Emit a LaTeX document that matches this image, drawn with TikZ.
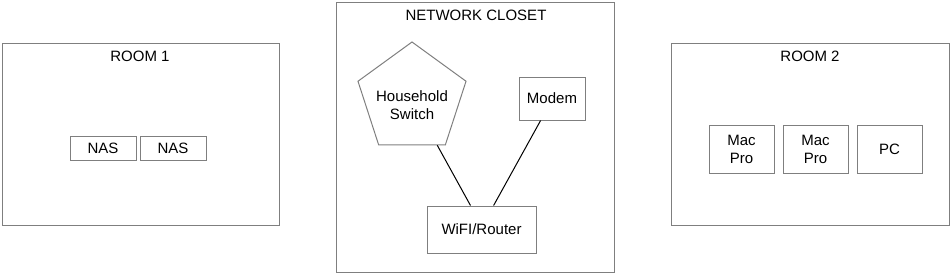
\documentclass[tikz,border=0pt]{standalone}
\usepackage{fontspec}
\setmainfont{Liberation Sans}
\usetikzlibrary{shapes.geometric,calc}
\definecolor{boxgray}{HTML}{7F7F7F}
\tikzset{
  room/.style={draw=boxgray, line width=1pt, rectangle, inner sep=0pt, anchor=north west},
  dev/.style={draw=boxgray, line width=1pt, rectangle, inner sep=0pt, align=center,
     font=\fontsize{15}{18}\selectfont},
  lbl/.style={font=\fontsize{15}{18}\selectfont, inner sep=0pt},
  wire/.style={draw=black, line width=1pt}
}
\begin{document}
\begin{tikzpicture}[x=1pt,y=-1pt]
\useasboundingbox (0,0) rectangle (950,273);
% rooms
\node[room, minimum width=277pt, minimum height=182pt] (room1) at (2,43) {};
\node[room, minimum width=278pt, minimum height=270pt] (closet) at (336,2) {};
\node[room, minimum width=278pt, minimum height=182pt] (room2) at (671,43) {};
\node[lbl] (room1lbl) at (140,56) {ROOM 1};
\node[lbl] (closetlbl) at (476,15) {NETWORK CLOSET};
\node[lbl] (room2lbl) at (810,56) {ROOM 2};
% room 1 devices
\node[dev, minimum width=66pt, minimum height=24pt] (nas1) at (103,148) {NAS};
\node[dev, minimum width=66pt, minimum height=24pt] (nas2) at (173,148) {NAS};
% room 2 devices
\node[dev, minimum width=65pt, minimum height=48pt] (mac1) at (741.5,149) {Mac\\Pro};
\node[dev, minimum width=65pt, minimum height=48pt] (mac2) at (815.5,149) {Mac\\Pro};
\node[dev, minimum width=65pt, minimum height=48pt] (pc) at (889.5,149) {PC};
% closet devices
\node[draw=boxgray, line width=1pt, regular polygon, regular polygon sides=5,
      minimum size=113.6pt, inner sep=0pt] (sw) at (412,98.8) {};
\node[lbl, align=center] (swlbl) at (412,105) {Household\\Switch};
\node[dev, minimum width=66pt, minimum height=43pt] (modem) at (552,98.5) {Modem};
\node[dev, minimum width=109pt, minimum height=47pt] (router) at (481.5,229.5) {WiFI/Router};
% wires
\draw[wire] ($(sw.corner 3)!0.874!(sw.corner 4)$) -- ($(router.north west)!0.40!(router.north east)$);
\draw[wire] ($(modem.south west)!0.33!(modem.south east)$) -- ($(router.north west)!0.61!(router.north east)$);
\end{tikzpicture}
\end{document}
